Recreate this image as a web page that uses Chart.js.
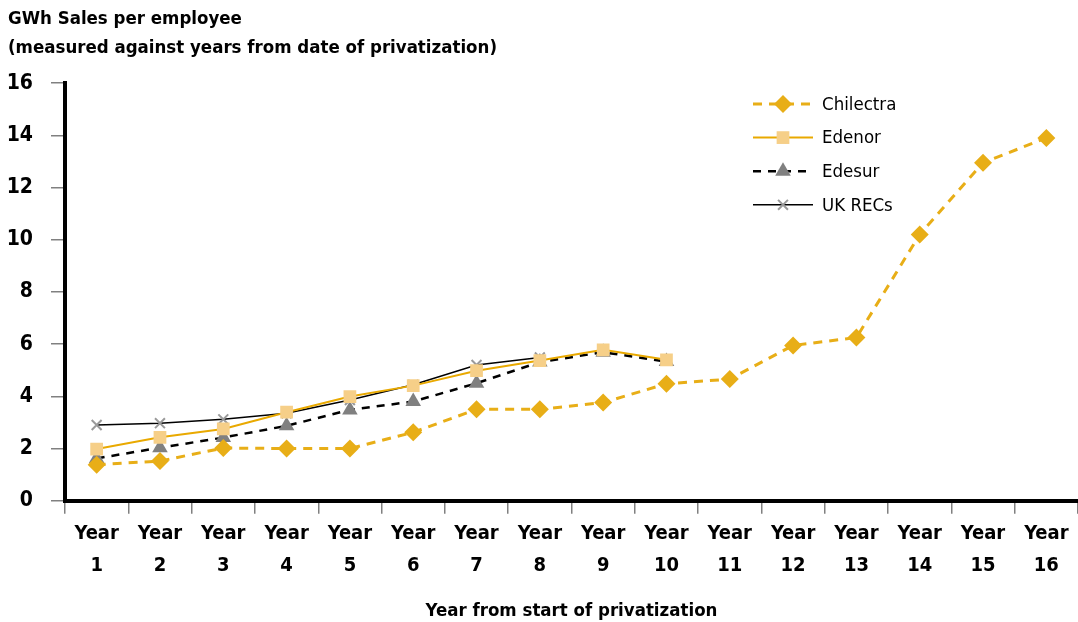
<!DOCTYPE html>
<html>
<head>
<meta charset="utf-8">
<script src="https://cdn.jsdelivr.net/npm/chart.js@4/dist/chart.umd.min.js"></script>
<style>
  html, body { margin: 0; padding: 0; background: #fff; }
  #wrap { width: 1078px; height: 622px; }
</style>
</head>
<body>
<div id="wrap"><canvas id="chartGwh" width="1078" height="622"></canvas></div>
<script>
/* Données (GWh vendus par employé) */
const years = ['1','2','3','4','5','6','7','8','9','10','11','12','13','14','15','16'];
const chilectra = [1.38, 1.52, 2.02, 2.0, 2.0, 2.62, 3.5, 3.5, 3.76, 4.48, 4.66, 5.95, 6.25, 10.2, 12.95, 13.9];
const edenor    = [1.98, 2.43, 2.75, 3.39, 3.99, 4.41, 4.98, 5.37, 5.78, 5.4];
const edesur    = [1.62, 2.03, 2.42, 2.87, 3.48, 3.8, 4.5, 5.31, 5.69, 5.33];
const ukRecs    = [2.9, 2.97, 3.12, 3.35, 3.86, 4.44, 5.2, 5.49];
const yTicks    = [0, 2, 4, 6, 8, 10, 12, 14, 16];

const FONT = "'Liberation Sans Narrow', 'DejaVu Sans Condensed', 'Arial Narrow', sans-serif";
Chart.defaults.font.family = FONT;
Chart.defaults.color = '#000';

/* Légende dessinée à la main : trait + marqueur au milieu */
const legendBox = {
    id: 'legendBox',
    afterDraw(chart) {
        const ctx = chart.ctx;
        const x0 = 753, x1 = 813, xm = 783, xt = 822, y0 = 104, dy = 33.6;
        chart.data.datasets.forEach((ds, i) => {
            const y = y0 + i * dy;
            ctx.save();
            ctx.strokeStyle = ds.borderColor;
            ctx.lineWidth = ds.borderWidth;
            ctx.setLineDash(ds.borderDash || []);
            ctx.beginPath();
            ctx.moveTo(x0, y);
            ctx.lineTo(x1, y);
            ctx.stroke();
            ctx.setLineDash([]);
            ctx.fillStyle = ds.pointBackgroundColor;
            ctx.strokeStyle = ds.pointBorderColor;
            ctx.lineWidth = ds.pointBorderWidth;
            Chart.helpers.drawPoint(ctx, {
                pointStyle: ds.pointStyle,
                radius: ds.pointRadius,
                borderWidth: ds.pointBorderWidth,
                rotation: 0
            }, xm, y);
            ctx.fillStyle = '#000';
            ctx.font = '18.5px ' + FONT;
            ctx.textAlign = 'left';
            ctx.textBaseline = 'middle';
            ctx.fillText(ds.label, xt, y + 1);
            ctx.restore();
        });
    }
};

new Chart(document.getElementById('chartGwh'), {
    type: 'line',
    data: {
        labels: years.map(y => ['Year', y]),
        datasets: [
            {
                label: 'Chilectra',
                data: chilectra,
                borderColor: '#E8AE17',
                borderWidth: 3,
                borderDash: [9, 7],
                pointStyle: 'rectRot',
                pointRadius: 9,
                pointBackgroundColor: '#E8AE17',
                pointBorderColor: '#E8AE17',
                pointBorderWidth: 0,
                tension: 0
            },
            {
                label: 'Edenor',
                data: edenor,
                borderColor: '#E9A900',
                borderWidth: 2,
                pointStyle: 'rect',
                pointRadius: 9,
                pointBackgroundColor: '#F6CF88',
                pointBorderColor: '#F6CF88',
                pointBorderWidth: 0,
                tension: 0
            },
            {
                label: 'Edesur',
                data: edesur,
                borderColor: '#000',
                borderWidth: 2.5,
                borderDash: [8, 7],
                pointStyle: 'triangle',
                pointRadius: 9,
                pointBackgroundColor: '#808080',
                pointBorderColor: '#808080',
                pointBorderWidth: 0,
                tension: 0
            },
            {
                label: 'UK RECs',
                data: ukRecs,
                borderColor: '#000',
                borderWidth: 1.5,
                pointStyle: 'crossRot',
                pointRadius: 7,
                pointBackgroundColor: '#9A9A9A',
                pointBorderColor: '#9A9A9A',
                pointBorderWidth: 2,
                tension: 0
            }
        ]
    },
    options: {
        responsive: false,
        animation: false,
        layout: { autoPadding: false, padding: { left: 8, top: 0, right: 0, bottom: 0 } },
        plugins: {
            legend: { display: false },
            tooltip: { enabled: false },
            title: {
                display: true,
                align: 'start',
                text: ['GWh Sales per employee', '(measured against years from date of privatization)'],
                font: { size: 18.5, weight: 'bold', lineHeight: 1.57 },
                color: '#000',
                padding: { top: 5, bottom: 20 }
            }
        },
        scales: {
            x: {
                offset: true,
                grid: { offset: true, drawOnChartArea: false, drawTicks: true, tickLength: 13, color: '#808080', lineWidth: 1.5 },
                border: { display: true, color: '#000', width: 4 },
                ticks: { font: { size: 20, weight: 'bold', lineHeight: 1.6 }, color: '#000', padding: 4, maxRotation: 0, autoSkip: false },
                title: {
                    display: true,
                    text: 'Year from start of privatization',
                    font: { size: 18.5, weight: 'bold', lineHeight: 1.15 },
                    color: '#000',
                    padding: { top: 15, bottom: 0 }
                }
            },
            y: {
                min: 0, max: 16,
                afterBuildTicks: axis => { axis.ticks = yTicks.map(v => ({ value: v })); },
                afterFit: axis => { axis.width = 57; },
                grid: { drawOnChartArea: false, drawTicks: true, tickLength: 14, color: '#808080', lineWidth: 1.5 },
                border: { display: true, color: '#000', width: 4 },
                ticks: { font: { size: 21, weight: 'bold' }, color: '#000', padding: 18 }
            }
        }
    },
    plugins: [legendBox]
});
</script>
</body>
</html>
